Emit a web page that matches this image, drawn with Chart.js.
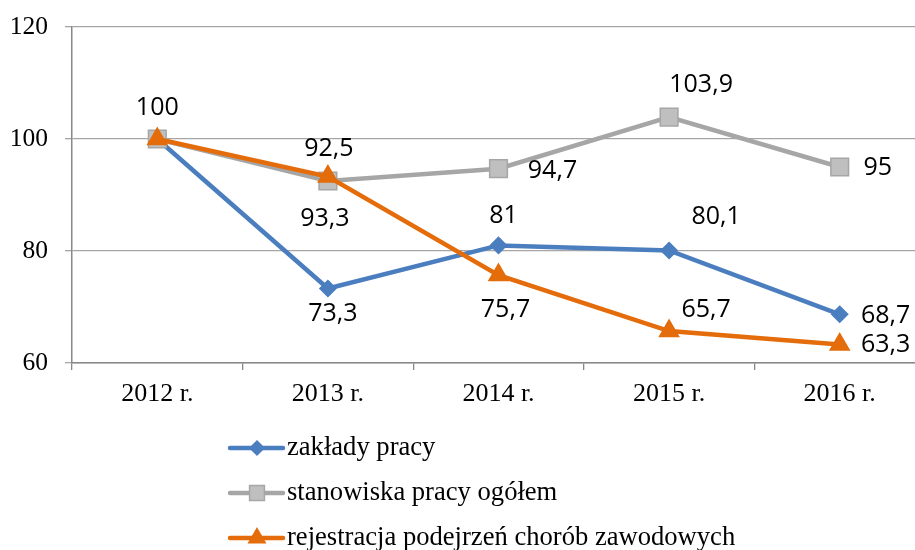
<!DOCTYPE html>
<html lang="pl">
<head>
<meta charset="utf-8">
<title>Dynamika 2012–2016</title>
<script src="https://cdn.jsdelivr.net/npm/chart.js@4"></script>
<style>
  html, body { margin: 0; padding: 0; background: #fff; overflow: hidden; }
</style>
</head>
<body>
<canvas id="chart" width="925" height="550"></canvas>
<script>
// ---------- Data (2012 = 100) ----------
const years = ['2012 r.', '2013 r.', '2014 r.', '2015 r.', '2016 r.'];
const zakladyPracy = [100, 73.3, 81, 80.1, 68.7];
const stanowiskaPracy = [100, 92.5, 94.7, 103.9, 95];
const rejestracjaChorob = [100, 93.3, 75.7, 65.7, 63.3];
const seriesNames = ['zakłady pracy', 'stanowiska pracy ogółem', 'rejestracja podejrzeń chorób zawodowych'];
const yTicks = [60, 80, 100, 120];

// ---------- Styles ----------
const BLUE = '#4a7ebf', GRAY = '#a6a6a6', GRAY_FILL = '#bfbfbf', ORANGE = '#e46c0a';
const SERIF = '"Liberation Serif", "Times New Roman", serif';
const SANS = '"Open Sans", "Liberation Sans", sans-serif';

// where each value label sits relative to its point (dx, dy); null = no label
const labelOffsets = [
  [null, [5, 25], [5, -30], [47, -34], [46, 2]],
  [[0, -31], [1, -32], [54, 2], [32, -32], [38, 1]],
  [null, [-3, 42], [7, 35], [37, -21], [46, 0]],
];

const fmt = (v) => String(v).replace('.', ',');

// small marker painter, shared by the legend
function marker(ctx, style, x, y, r, fill, stroke, bw) {
  ctx.save();
  ctx.beginPath();
  if (style === 'rectRot') {
    ctx.moveTo(x - r, y); ctx.lineTo(x, y - r); ctx.lineTo(x + r, y); ctx.lineTo(x, y + r);
  } else if (style === 'rect') {
    const s = r * Math.SQRT1_2;
    ctx.rect(x - s, y - s, 2 * s, 2 * s);
  } else {
    const h = r * Math.sqrt(3) / 2;
    ctx.moveTo(x, y - r); ctx.lineTo(x + h, y + r / 2); ctx.lineTo(x - h, y + r / 2);
  }
  ctx.closePath();
  ctx.fillStyle = fill; ctx.fill();
  ctx.lineWidth = bw; ctx.strokeStyle = stroke; ctx.stroke();
  ctx.restore();
}

// ---------- Value labels ----------
const valueLabels = {
  id: 'valueLabels',
  afterDatasetsDraw(chart) {
    const ctx = chart.ctx;
    ctx.save();
    ctx.font = '25px ' + SANS;
    ctx.fillStyle = '#000';
    ctx.textAlign = 'center';
    ctx.textBaseline = 'middle';
    chart.data.datasets.forEach((ds, i) => {
      chart.getDatasetMeta(i).data.forEach((pt, j) => {
        const off = labelOffsets[i][j];
        if (!off) return;
        ctx.fillText(fmt(ds.data[j]), pt.x + off[0], pt.y + off[1]);
      });
    });
    ctx.restore();
  },
};

// ---------- Vertical legend under the axis ----------
const stackedLegend = {
  id: 'stackedLegend',
  afterDraw(chart) {
    const ctx = chart.ctx;
    const rows = [448, 493, 538];
    chart.data.datasets.forEach((ds, i) => {
      const y = rows[i];
      ctx.save();
      ctx.lineWidth = 4.5;
      ctx.lineCap = 'round';
      ctx.strokeStyle = ds.borderColor;
      ctx.beginPath(); ctx.moveTo(230, y); ctx.lineTo(283, y); ctx.stroke();
      ctx.restore();
      const r = ds.pointStyle === 'rect' ? 10.5 : ds.pointStyle === 'triangle' ? 9.5 : 7;
      marker(ctx, ds.pointStyle, 257, y, r, ds.pointBackgroundColor, ds.pointBorderColor, ds.pointBorderWidth);
      ctx.save();
      ctx.font = '26.6px ' + SERIF;
      ctx.fillStyle = '#000';
      ctx.textBaseline = 'middle';
      ctx.fillText(ds.label, 287, y);
      ctx.restore();
    });
  },
};

function lineSet(label, data, color, style, radius, fill, border, order) {
  return {
    label, data, order,
    borderColor: color, borderWidth: 4.5, tension: 0,
    pointStyle: style, pointRadius: radius, pointHoverRadius: radius,
    pointBackgroundColor: fill, pointBorderColor: border, pointBorderWidth: 1.5,
  };
}

new Chart(document.getElementById('chart'), {
  type: 'line',
  data: {
    labels: years,
    datasets: [
      lineSet(seriesNames[0], zakladyPracy, BLUE, 'rectRot', 8, BLUE, BLUE, 2),
      lineSet(seriesNames[1], stanowiskaPracy, GRAY, 'rect', 12.5, GRAY_FILL, GRAY, 1),
      lineSet(seriesNames[2], rejestracjaChorob, ORANGE, 'triangle', 11, ORANGE, ORANGE, 0),
    ],
  },
  options: {
    responsive: false,
    animation: false,
    layout: { autoPadding: false, padding: { top: 27, right: 0, bottom: 0, left: 0 } },
    plugins: { legend: { display: false }, tooltip: { enabled: false } },
    scales: {
      x: {
        offset: true,
        grid: { offset: true, drawOnChartArea: false, color: '#888', tickLength: 7, lineWidth: 1.3 },
        border: { color: '#888', width: 1.5 },
        ticks: { color: '#000', font: { family: SERIF, size: 26 }, padding: 9, maxRotation: 0 },
        afterFit: (s) => { s.height = 187; s.paddingLeft = 0; s.paddingRight = 0; },
      },
      y: {
        min: 60, max: 120,
        afterBuildTicks: (s) => { s.ticks = yTicks.map((v) => ({ value: v })); },
        grid: { color: '#a6a6a6', tickLength: 7, lineWidth: 1.3 },
        border: { color: '#888', width: 1.5 },
        ticks: { color: '#000', font: { family: SERIF, size: 25.5 }, padding: 17 },
        afterFit: (s) => { s.width = 72; s.paddingTop = 0; s.paddingBottom = 0; },
      },
    },
  },
  plugins: [valueLabels, stackedLegend],
});
</script>
</body>
</html>
